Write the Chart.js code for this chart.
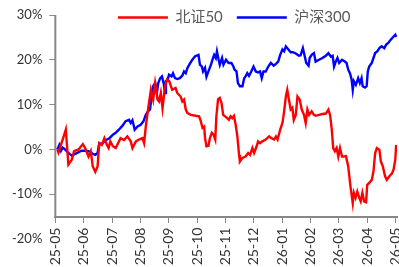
<!DOCTYPE html>
<html>
<head>
<meta charset="utf-8">
<script src="https://cdn.jsdelivr.net/npm/chart.js"></script>
<style>
  html, body { margin: 0; padding: 0; background: #fff; }
  #wrap { position: relative; width: 399px; height: 267px; }
</style>
</head>
<body>
<div id="wrap"><canvas id="chart"></canvas></div>
<script>
// 月份刻度
const monthLabels = ['25-05', '25-06', '25-07', '25-08', '25-09', '25-10', '25-11',
  '25-12', '26-01', '26-02', '26-03', '26-04', '26-05'];

// 北证50 (x: months since 25-05, y: %)
const bzMonths = [
  0.07, 0.11, 0.25, 0.37, 0.46, 0.58, 0.66, 0.82, 0.97, 1.05,
  1.17, 1.25, 1.32, 1.41, 1.49, 1.55, 1.64, 1.73, 1.82, 1.88,
  1.94, 2.03, 2.13, 2.30, 2.42, 2.54, 2.66, 2.72, 2.84, 2.95,
  3.07, 3.13, 3.19, 3.27, 3.37, 3.45, 3.52, 3.61, 3.66, 3.72,
  3.78, 3.87, 3.94, 4.02, 4.12, 4.24, 4.30, 4.42, 4.48, 4.54,
  4.60, 4.66, 4.78, 4.95, 5.07, 5.13, 5.19, 5.25, 5.28, 5.33,
  5.40, 5.45, 5.52, 5.58, 5.64, 5.68, 5.74, 5.80, 5.86, 5.92,
  6.02, 6.12, 6.18, 6.24, 6.30, 6.36, 6.42, 6.48, 6.51, 6.60,
  6.71, 6.80, 6.87, 6.95, 7.01, 7.10, 7.15, 7.22, 7.30, 7.42,
  7.54, 7.62, 7.72, 7.78, 7.84, 7.93, 8.01, 8.07, 8.13, 8.18,
  8.24, 8.30, 8.36, 8.41, 8.48, 8.54, 8.62, 8.69, 8.77, 8.83,
  8.89, 8.95, 9.04, 9.12, 9.18, 9.30, 9.42, 9.54, 9.63, 9.69,
  9.75, 9.80, 9.86, 9.92, 9.98, 10.04, 10.11, 10.15, 10.25, 10.33,
  10.41, 10.49, 10.53, 10.59, 10.65, 10.72, 10.77, 10.83, 10.89, 10.96,
  11.00, 11.07, 11.16, 11.22, 11.28, 11.34, 11.43, 11.48, 11.55, 11.63,
  11.69, 11.78, 11.87, 11.93, 11.99, 12.02
];
const bzValues = [
  0, -0.7, 2.0, 4.4, -3.4, -2.3, -0.4, 0, 1.2, 0.3,
  -1.6, -0.4, -3.8, -5.0, -3.8, 1.4, 1.0, 2.5, 1.0, 0.3,
  1.8, 0.7, 0.3, 2.5, 2.1, 2.9, 1.8, 0.3, 1.8, 2.2,
  2.5, 1.4, 5.1, 8.9, 13.3, 11.1, 14.8, 11.1, 10.7, 12.6,
  9.2, 14.1, 15.6, 15.2, 13.3, 13.7, 12.6, 11.8, 10.7, 11.1,
  8.9, 8.1, 7.7, 7.5, 7.4, 6.3, 4.8, 5.1, 2.5, 0.7,
  0.8, 2.5, 3.7, 3.3, 2.2, 7.4, 11.2, 11.5, 10.4, 7.7,
  7.2, 6.6, 7.4, 7.0, 7.5, 5.5, 2.9, -1.2, -2.7, -1.9,
  -1.6, -0.8, -1.2, 0.3, -0.8, 0.7, 1.8, 1.4, 1.8, 2.2,
  2.9, 2.5, 2.2, 2.9, 2.2, 4.4, 5.9, 8.5, 11.8, 13.3,
  11.1, 8.9, 9.3, 6.6, 7.7, 11.8, 11.1, 8.9, 7.7, 5.9,
  8.9, 7.7, 8.5, 7.7, 7.5, 7.7, 7.9, 8.0, 8.9, 7.7,
  4.4, 0.3, -0.4, 0.3, -1.6, 0.3, -1.6, -1.6, -1.5, -3.8,
  -8.3, -12.0, -9.7, -10.8, -9.4, -10.8, -11.6, -9.7, -11.6, -11.8,
  -7.9, -7.5, -6.8, -4.9, -0.8, 0.3, -0.1, -2.7, -3.8, -6.0,
  -6.8, -6.0, -5.4, -4.5, -2.3, 1.0
];

// 沪深300
const hsMonths = [
  0.07, 0.14, 0.20, 0.26, 0.34, 0.46, 0.58, 0.70, 0.82, 0.93,
  1.05, 1.17, 1.25, 1.32, 1.41, 1.49, 1.55, 1.64, 1.73, 1.82,
  1.91, 2.03, 2.13, 2.24, 2.37, 2.48, 2.60, 2.66, 2.72, 2.80,
  2.90, 3.01, 3.11, 3.19, 3.27, 3.34, 3.39, 3.45, 3.52, 3.58,
  3.63, 3.70, 3.76, 3.82, 3.87, 3.90, 3.96, 4.01, 4.10, 4.15,
  4.22, 4.30, 4.39, 4.48, 4.54, 4.60, 4.66, 4.74, 4.83, 4.93,
  5.05, 5.10, 5.17, 5.21, 5.28, 5.33, 5.40, 5.49, 5.54, 5.60,
  5.66, 5.70, 5.76, 5.80, 5.88, 5.93, 6.02, 6.11, 6.21, 6.28,
  6.32, 6.39, 6.44, 6.51, 6.60, 6.66, 6.71, 6.77, 6.83, 6.91,
  6.99, 7.07, 7.15, 7.22, 7.28, 7.34, 7.42, 7.51, 7.60, 7.70,
  7.78, 7.86, 7.93, 8.01, 8.07, 8.13, 8.22, 8.30, 8.38, 8.48,
  8.59, 8.65, 8.73, 8.80, 8.85, 8.93, 8.97, 9.04, 9.12, 9.18,
  9.30, 9.42, 9.54, 9.63, 9.72, 9.78, 9.83, 9.89, 9.95, 10.01,
  10.11, 10.21, 10.27, 10.33, 10.39, 10.45, 10.49, 10.53, 10.60, 10.68,
  10.74, 10.80, 10.84, 10.92, 10.98, 11.02, 11.07, 11.16, 11.22, 11.28,
  11.36, 11.43, 11.51, 11.60, 11.67, 11.75, 11.83, 11.93, 11.99, 12.02
];
const hsValues = [
  0, 1.0, -0.3, 0.4, 0, -0.8, -1.4, -1.0, -0.6, -0.3,
  -0.3, -0.4, -0.6, -1.0, -1.2, -0.8, 1.4, 1.2, 1.8, 2.2,
  2.5, 3.3, 3.7, 4.4, 5.3, 6.3, 6.6, 5.9, 6.5, 4.4,
  5.1, 5.5, 6.3, 7.7, 8.5, 8.9, 11.5, 14.1, 14.8, 12.6,
  14.8, 15.9, 16.3, 14.8, 12.6, 15.2, 15.6, 16.7, 16.3, 17.0,
  15.9, 15.7, 15.9, 16.5, 17.4, 17.0, 18.2, 19.1, 20.0, 20.8,
  21.1, 18.9, 18.5, 17.4, 18.2, 16.2, 17.4, 18.9, 20.0, 21.1,
  20.4, 21.9, 20.0, 18.9, 20.4, 18.9, 20.0, 19.3, 19.3, 18.5,
  17.8, 17.4, 14.8, 14.1, 14.1, 15.9, 16.3, 17.0, 16.4, 17.4,
  18.5, 17.4, 17.2, 17.4, 15.9, 17.4, 17.4, 18.5, 19.3, 18.7,
  19.1, 19.6, 21.1, 22.3, 21.9, 23.0, 22.3, 21.7, 21.7, 21.4,
  20.9, 21.0, 22.6, 20.7, 19.3, 18.7, 20.4, 21.1, 21.5, 19.6,
  20.0, 20.4, 20.9, 21.5, 20.7, 20.9, 18.5, 19.6, 20.4, 19.3,
  20.0, 19.6, 19.3, 17.8, 17.0, 15.6, 13.3, 15.2, 14.4, 15.9,
  14.8, 15.9, 14.1, 13.8, 14.1, 17.4, 18.5, 19.3, 20.4, 21.5,
  21.9, 22.6, 23.0, 22.6, 23.4, 23.8, 24.5, 25.2, 25.6, 25.1
];

const axisCross = -15;   // 横轴与纵轴交叉的位置
const fontFamily = 'Lato, "Noto Sans CJK SC", sans-serif';

// 纵轴线只画到横轴为止
const yAxisLine = {
    id: 'yAxisLine',
    beforeDatasetsDraw(chart) {
        const { ctx, scales: { x, y } } = chart;
        ctx.save();
        ctx.strokeStyle = '#888';
        ctx.lineWidth = 2;
        ctx.beginPath();
        ctx.moveTo(x.left, y.top);
        ctx.lineTo(x.left, y.getPixelForValue(axisCross));
        ctx.stroke();
        ctx.restore();
    }
};

// 图例压在绘图区顶部，稍微右移
const legendShift = {
    id: 'legendShift',
    afterLayout(chart) {
        chart.legend.left += 8;
        chart.legend.right += 8;
        chart.legend.bottom = chart.legend.top + 40;
    }
};

const toPoints = (xs, ys) => xs.map((m, i) => ({ x: m, y: ys[i] }));

new Chart(document.getElementById('chart'), {
    type: 'line',
    data: {
        datasets: [{
            label: '北证50',
            data: toPoints(bzMonths, bzValues),
            borderColor: '#ff0000',
            backgroundColor: '#ff0000',
            borderWidth: 2.4,
            pointRadius: 0,
            tension: 0
        }, {
            label: '沪深300',
            data: toPoints(hsMonths, hsValues),
            borderColor: '#0000ff',
            backgroundColor: '#0000ff',
            borderWidth: 2.4,
            pointRadius: 0,
            tension: 0
        }]
    },
    options: {
        responsive: true,
        maintainAspectRatio: false,
        animation: false,
        layout: { padding: { left: 5, top: -4, right: 2, bottom: 28 } },
        plugins: {
            tooltip: { enabled: false },
            legend: {
                position: 'top',
                fullSize: false,
                maxHeight: 19,
                labels: {
                    usePointStyle: true,
                    pointStyle: 'line',
                    pointStyleWidth: 50,
                    padding: 14,
                    color: '#595959',
                    font: { family: fontFamily, size: 15 }
                }
            }
        },
        scales: {
            x: {
                type: 'linear',
                min: 0,
                max: 12.05,
                position: { y: axisCross },
                afterBuildTicks: (s) => { s.ticks = monthLabels.map((_, i) => ({ value: i })); },
                afterFit: (s) => { s.paddingLeft = 0; s.paddingRight = 0; },
                grid: { drawOnChartArea: false, drawTicks: true, tickLength: 5, color: '#888' },
                border: { color: '#888', width: 2 },
                ticks: {
                    autoSkip: false,
                    minRotation: 90,
                    maxRotation: 90,
                    padding: 6,
                    color: '#333',
                    font: { family: fontFamily, size: 14 },
                    callback: (v) => monthLabels[Math.round(v)]
                }
            },
            y: {
                min: -20,
                max: 30,
                border: { display: false },
                grid: {
                    drawOnChartArea: false,
                    tickLength: 6,
                    color: (c) => (c.tick && c.tick.value === -20 ? 'rgba(0,0,0,0)' : '#888')
                },
                ticks: {
                    stepSize: 10,
                    padding: 7,
                    color: '#333',
                    font: { family: fontFamily, size: 13 },
                    callback: (v) => v + '%'
                }
            }
        }
    },
    plugins: [yAxisLine, legendShift]
});
</script>
</body>
</html>
